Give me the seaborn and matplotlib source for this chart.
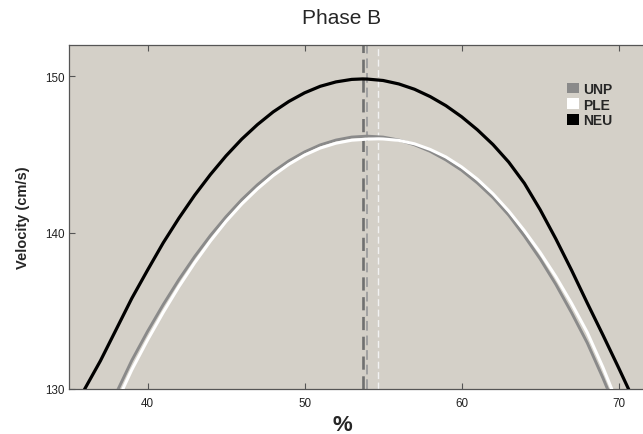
import numpy as np
import pandas as pd
import matplotlib
matplotlib.use("Agg")
import matplotlib.pyplot as plt
import matplotlib.patches as mpatches
import seaborn as sns

# ---- data ----
neu_x = [35, 36, 37, 38, 39, 40, 41, 42, 43, 44, 45, 46, 47, 48, 49, 50, 51, 52, 53, 53.7,
         54, 55, 56, 57, 58, 59, 60, 61, 62, 63, 64, 65, 66, 67, 68, 69, 70, 71, 72]
neu_y = [127.6, 130.0, 131.8, 133.8, 135.8, 137.6, 139.35, 140.93, 142.39, 143.71, 144.91,
         145.98, 146.91, 147.72, 148.39, 148.94, 149.36, 149.64, 149.80, 149.83,
         149.82, 149.73, 149.51, 149.17, 148.70, 148.12, 147.41, 146.58, 145.63, 144.51,
         143.15, 141.47, 139.6, 137.6, 135.5, 133.45, 131.35, 129.2, 127.0]

unp_x = [37, 38, 39, 40, 41, 42, 43, 44, 45, 46, 47, 48, 49, 50, 51, 52, 53, 53.97,
         55, 56, 57, 58, 59, 60, 61, 62, 63, 64, 65, 66, 67, 68, 69, 70]
unp_y = [127.59, 129.72, 131.83, 133.68, 135.40, 137.0, 138.47, 139.81, 141.02, 142.11,
         143.06, 143.89, 144.59, 145.16, 145.61, 145.92, 146.11, 146.17,
         146.11, 145.92, 145.62, 145.20, 144.65, 143.99, 143.18, 142.24, 141.12, 139.78,
         138.32, 136.69, 134.88, 132.95, 130.7, 128.3]

ple_x = [37, 38, 39, 40, 41, 42, 43, 44, 45, 46, 47, 48, 49, 50, 51, 52, 53, 54, 54.7,
         55, 56, 57, 58, 59, 60, 61, 62, 63, 64, 65, 66, 67, 68, 69, 70]
ple_y = [126.9, 129.07, 131.23, 133.13, 134.9, 136.55, 138.07, 139.46, 140.72, 141.83,
         142.8, 143.65, 144.37, 144.96, 145.41, 145.72, 145.91, 145.98, 146.0,
         145.99, 145.9, 145.68, 145.32, 144.84, 144.2, 143.42, 142.48, 141.38, 140.12,
         138.73, 137.19, 135.48, 133.62, 131.38, 128.91]

peak_x = {"NEU": 53.7, "UNP": 53.97, "PLE": 54.7}

series = ["UNP", "PLE", "NEU"]
colors = {"UNP": "#8a8a8a", "PLE": "#ffffff", "NEU": "#000000"}

x_ticks = [40, 50, 60, 70]
y_ticks = [130, 140, 150]

df = pd.concat([
    pd.DataFrame({"x": neu_x, "y": neu_y, "group": "NEU"}),
    pd.DataFrame({"x": unp_x, "y": unp_y, "group": "UNP"}),
    pd.DataFrame({"x": ple_x, "y": ple_y, "group": "PLE"}),
], ignore_index=True)

sns.set_style("ticks")
plt.rcParams["font.family"] = ["Liberation Sans", "DejaVu Sans"]

fig = plt.figure(figsize=(6.43, 4.35), dpi=100)
ax = fig.add_axes([69 / 643, 45 / 435, 1 - 69 / 643, 344 / 435])
ax.set_facecolor("#d4d0c8")

# vertical dashed peak markers
ax.axvline(peak_x["NEU"], color="#707070", lw=1.9, ls=(0, (5, 2.5)), zorder=1)
ax.axvline(peak_x["UNP"], color="#a0a0a0", lw=1.4, ls=(0, (5, 2.5)), zorder=1)
ax.axvline(peak_x["PLE"], color="#f2f2f2", lw=1.0, ls=(0, (5, 2.5)), zorder=1)

for name, lw, z in [("NEU", 2.3, 3), ("UNP", 2.1, 3), ("PLE", 2.2, 4)]:
    sns.lineplot(data=df[df.group == name], x="x", y="y", color=colors[name], lw=lw,
                 ax=ax, legend=False, zorder=z, solid_joinstyle="round")

ax.set_xlim(35, 71.55)
ax.set_ylim(130, 152)
ax.set_xticks(x_ticks)
ax.set_yticks(y_ticks)
ax.tick_params(axis="both", direction="in", length=4, width=0.8, color="#555555",
               labelsize=8.4, labelcolor="#222222")
ax.tick_params(axis="x", top=True, pad=6)
ax.tick_params(axis="y", pad=3)
for side in ["left", "bottom", "top"]:
    ax.spines[side].set_color("#555555")
    ax.spines[side].set_linewidth(0.9)
ax.spines["right"].set_visible(False)

ax.set_xlabel("")
ax.set_ylabel("")
fig.text(23 / 643, 1 - 218 / 435, "Velocity (cm/s)", rotation=90, ha="center", va="center",
         fontsize=10.5, fontweight="bold")
fig.text(342 / 643, 1 - 431 / 435, "%", ha="center", va="baseline",
         fontsize=16, fontweight="bold")
fig.text(341.7 / 643, 1 - 24 / 435, "Phase B", ha="center", va="baseline", fontsize=15)

handles = [mpatches.Patch(facecolor=colors[s], edgecolor="none", label=s) for s in series]
leg = ax.legend(handles=handles, loc="upper left", bbox_to_anchor=(560 / 643, 1 - 76 / 435),
                bbox_transform=fig.transFigure, frameon=False, handlelength=0.9,
                handleheight=0.8, handletextpad=0.3, labelspacing=0.12, borderpad=0,
                prop={"weight": "bold", "size": 10})

fig.savefig("out.png", dpi=100)
